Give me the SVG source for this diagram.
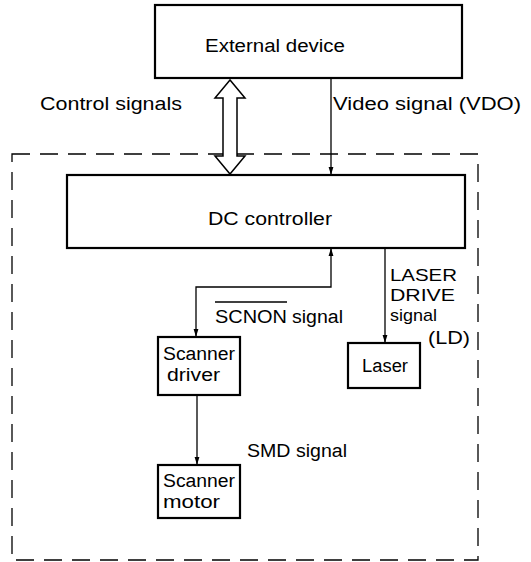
<svg xmlns="http://www.w3.org/2000/svg" width="531" height="562" viewBox="0 0 531 562">
<style>
.box{fill:#fff;stroke:#000;stroke-width:2.2}
.ln{fill:none;stroke:#000;stroke-width:1.3}
.dash{fill:none;stroke:#000;stroke-width:1.3;stroke-dasharray:18 10}
text{font-family:"Liberation Sans",Arial,sans-serif;font-size:18px;fill:#000}
.sm{font-size:17px}
</style>
<defs>
<marker id="ah" viewBox="0 0 10 10" refX="10" refY="5" markerWidth="8" markerHeight="8" markerUnits="userSpaceOnUse" orient="auto-start-reverse">
<path d="M0,2 L10,5 L0,8 Z" fill="#000"/>
</marker>
</defs>
<rect x="0" y="0" width="531" height="562" fill="#fff"/>
<g id="boundary">
<rect class="dash" x="12" y="154" width="466" height="406"/>
</g>
<g id="connectors">
<line class="ln" x1="331" y1="79" x2="331" y2="175" marker-end="url(#ah)"/>
<polyline class="ln" points="331,248 331,287 196,287 196,337" marker-start="url(#ah)" marker-end="url(#ah)"/>
<line class="ln" x1="385" y1="248" x2="385" y2="343" marker-end="url(#ah)"/>
<line class="ln" x1="197" y1="395" x2="197" y2="465" marker-end="url(#ah)"/>
<polygon points="230,80 215,98 223,98 223,156 215,156 230,174 245,156 237,156 237,98 245,98" fill="#fff" stroke="#000" stroke-width="1.5" stroke-linejoin="miter"/>
</g>
<g id="external-device">
<rect class="box" x="155" y="5" width="307" height="73"/>
<text x="205" y="52" textLength="140" lengthAdjust="spacingAndGlyphs">External device</text>
</g>
<g id="labels">
<text x="40" y="110" textLength="142" lengthAdjust="spacingAndGlyphs">Control signals</text>
<text x="333" y="110" textLength="188" lengthAdjust="spacingAndGlyphs">Video signal (VDO)</text>
<text x="215" y="323" textLength="72" lengthAdjust="spacingAndGlyphs">SCNON</text>
<line x1="215" y1="302" x2="287" y2="302" stroke="#000" stroke-width="1.3"/>
<text x="292" y="323" textLength="51" lengthAdjust="spacingAndGlyphs">signal</text>
<text class="sm" x="390" y="281" textLength="67" lengthAdjust="spacingAndGlyphs">LASER</text>
<text class="sm" x="390" y="301" textLength="65" lengthAdjust="spacingAndGlyphs">DRIVE</text>
<text class="sm" x="390" y="321" textLength="47" lengthAdjust="spacingAndGlyphs">signal</text>
<text x="428" y="344" textLength="42" lengthAdjust="spacingAndGlyphs">(LD)</text>
<text x="247" y="457" textLength="100" lengthAdjust="spacingAndGlyphs">SMD signal</text>
</g>
<g id="dc-controller">
<rect class="box" x="67" y="175" width="398" height="73"/>
<text x="208" y="225" textLength="124" lengthAdjust="spacingAndGlyphs">DC controller</text>
</g>
<g id="scanner-driver">
<rect class="box" x="158" y="337" width="82" height="58"/>
<text x="163" y="360" textLength="72" lengthAdjust="spacingAndGlyphs">Scanner</text>
<text x="167" y="381" textLength="53" lengthAdjust="spacingAndGlyphs">driver</text>
</g>
<g id="laser">
<rect class="box" x="348" y="343" width="72" height="45"/>
<text x="362" y="372" textLength="46" lengthAdjust="spacingAndGlyphs">Laser</text>
</g>
<g id="scanner-motor">
<rect class="box" x="158" y="465" width="82" height="53"/>
<text x="163" y="487" textLength="72" lengthAdjust="spacingAndGlyphs">Scanner</text>
<text x="163" y="508" textLength="57" lengthAdjust="spacingAndGlyphs">motor</text>
</g>
</svg>
